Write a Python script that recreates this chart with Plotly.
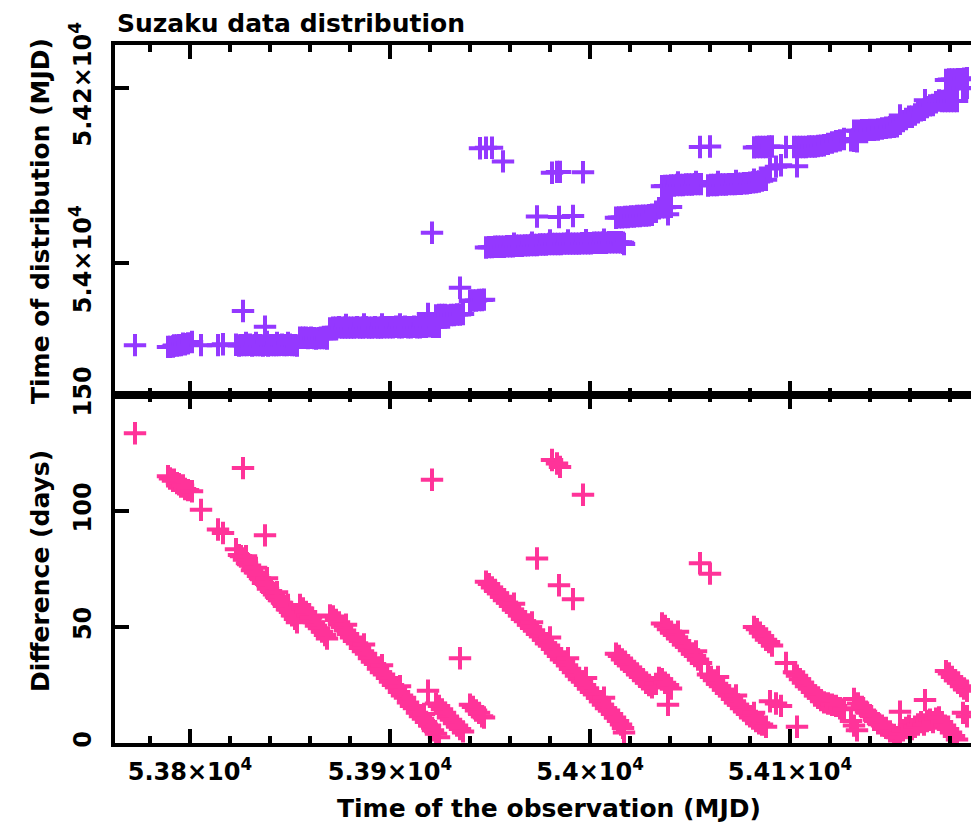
import plotly.graph_objects as go

# Observation time (MJD) and difference (days) = distribution time - observation time
obs_time = [
    # released ~MJD 53906
    53772.5, 53789, 53790, 53791.5, 53792, 53793.5, 53794.5, 53795.5, 53796.5, 53797.5,
    53799, 53801, 53805.5, 53814, 53816.5, 53823, 53824.5, 53825.5, 53827, 53828.5,
    53830, 53831, 53832.5, 53834, 53835, 53836.5, 53838, 53839, 53840.5, 53842,
    53843, 53844.5, 53846, 53847, 53848.5, 53850, 53851, 53852.5, 53853.5,
    53828, 53833, 53838.5, 53843.5, 53849,
    53826.5, 53837.5,
    # released ~MJD 53914
    53855, 53856.5, 53858, 53859, 53860.5, 53862, 53863, 53864.5, 53866, 53867.5, 53868.5,
    # released ~MJD 53926
    53870, 53871.5, 53873, 53874.5, 53876, 53877.5, 53879, 53880.5, 53882, 53883.5,
    53885, 53886.5, 53888, 53889.5, 53891, 53892.5, 53894, 53895.5, 53897, 53898.5,
    53900, 53901.5, 53903, 53904.5, 53906, 53907.5, 53909, 53910.5, 53912, 53913.5,
    53915, 53916.5, 53918, 53920, 53921.5, 53923, 53924.5,
    53878, 53887, 53896, 53905, 53917,
    53921, 53935, 53919,
    # released ~MJD 53940
    53923, 53924.5, 53926, 53927.5, 53929, 53930.5, 53932, 53933.5, 53935, 53936.5,
    # released ~MJD 53957
    53940, 53941.5, 53943, 53944.5, 53946, 53947,
    # released much later (off the lower scale)
    53945, 53948, 53951, 53956.5,
    # released ~MJD 54020
    53948, 53949.5, 53951, 53952.5, 53954, 53955.5, 53957, 53958.5, 53960, 53961.5,
    53963, 53964.5, 53966, 53967.5, 53969, 53970.5, 53972, 53973.5, 53975, 53976.5,
    53978, 53979.5, 53981, 53982.5, 53984, 53985.5, 53987, 53988.5, 53990, 53991.5,
    53993, 53994.5, 53996, 53997.5, 53999, 54000.5, 54002, 54003.5, 54005, 54006.5,
    54008, 54009.5, 54011, 54012.5, 54014, 54015.5, 54016.5, 54017,
    53962, 53971, 53980, 53989, 53998, 54007,
    53973.5, 53981, 53983.5, 53985, 53996.5, 53984.5, 53991.5,
    # released ~MJD 54053
    54013, 54014.5, 54016, 54017.5, 54019, 54020.5, 54022, 54023.5, 54025, 54026.5,
    54028, 54029.5, 54031, 54033, 54034.5, 54036, 54037.5, 54039, 54040.5, 54039,
    # released ~MJD 54089
    54036, 54037.5, 54039, 54040.5, 54042, 54043.5, 54045, 54046.5, 54048, 54049.5,
    54051, 54052.5, 54054, 54055.5, 54059, 54060.5, 54062, 54063.5, 54065, 54066.5,
    54068, 54069.5, 54071, 54072.5, 54074, 54075.5, 54077, 54078.5, 54080, 54081.5,
    54083, 54084.5, 54086, 54088,
    54044, 54053, 54064, 54073, 54082,
    54055, 54060,
    # released ~MJD 54131
    54082, 54083.5, 54085, 54086.5, 54088, 54089.5, 54091, 54098, 54102, 54103.5,
    54105, 54106.5, 54108, 54109.5, 54111, 54112.5, 54114, 54115.5, 54117, 54119,
    54121, 54123, 54125, 54127,
    # released ~MJD 54110
    54090, 54093, 54095.5, 54103.5,
    # released ~MJD 54140-54150
    54130.5, 54132, 54133.5,
    54132, 54134, 54136, 54138, 54140, 54142, 54144, 54146, 54148, 54150, 54152,
    # quick releases ~MJD 54155-54185
    54153.5, 54155, 54156.5, 54158, 54159.5, 54161, 54162.5, 54164, 54165.5, 54167,
    54168.5, 54170, 54171.5, 54173, 54174.5, 54176, 54177.5, 54179, 54180.5, 54182,
    54183.5,
    54155, 54167.5,
    # released ~MJD 54210
    54178, 54179.5, 54181, 54182.5, 54184, 54185.5, 54187, 54188.5,
    54186.5, 54188.5,
]

difference = [
    133.5, 115, 114, 113, 113.5, 112, 111.5, 110.5, 111, 109.5,
    109, 108.5, 100.5, 92, 90.5, 83.5, 81, 80.5, 79, 77.5,
    76.5, 74.5, 73.5, 72, 71, 69, 68.5, 66.5, 65.5, 64,
    63, 61.5, 60.5, 59, 57.5, 56.5, 55, 53.5, 52,
    80.5, 75.5, 71, 65, 59.5,
    118.5, 89.5,
    59.5, 58, 56.5, 55, 54, 52, 50.5, 49.5, 48, 46.5, 45,
    55, 54.5, 53, 52, 50, 48.5, 47, 45.5, 44, 43,
    41, 39.5, 38.5, 36.5, 35, 34, 32, 30.5, 29.5, 28,
    26.5, 25, 24, 22, 20.5, 19.5, 17.5, 16, 15, 13,
    11.5, 10.5, 9, 7.5, 5.5, 4, 2.5,
    51, 42.5, 33.5, 24.5, 12.5,
    113.5, 36.5, 22.5,
    17, 16, 14.5, 13, 11, 10, 8.5, 7.5, 6, 5,
    16.5, 15.5, 14, 13, 11.5, 11,
    186, 183.5, 180.5, 159.5,
    69.5, 68.5, 67, 66, 64.5, 63, 61.5, 60.5, 59, 57.5,
    56.5, 55, 53.5, 52.5, 51, 50, 48.5, 47, 46, 44.5,
    43, 42, 40.5, 39, 37.5, 36, 35, 33.5, 32, 30.5,
    29, 27.5, 26.5, 25, 23.5, 22, 21, 19.5, 18, 16.5,
    15, 14, 12.5, 11, 9.5, 8, 6.5, 4.5,
    60, 52, 45.5, 36.5, 28, 19.5,
    79.5, 122, 120.5, 119, 107, 68, 62,
    38.5, 37.5, 36, 35, 33.5, 32.5, 31, 30, 28.5, 27.5,
    26, 25, 24, 25.5, 28, 27.5, 26, 25, 23.5, 16.5,
    51.5, 50.5, 49, 48, 46.5, 45.5, 44, 42.5, 41.5, 40,
    38.5, 37.5, 36, 34.5, 29.5, 28.5, 27, 25.5, 24.5, 23,
    21.5, 20.5, 19, 17.5, 16.5, 15, 14, 12.5, 11.5, 10.5,
    9.5, 8.5, 8, 7,
    48, 39.5, 28.5, 20.5, 13,
    77.5, 73,
    50, 49, 47.5, 46, 44.5, 43.5, 42, 34.5, 30.5, 29,
    27.5, 26, 24.5, 23.5, 22, 20.5, 19.5, 18.5, 17.5, 17,
    16.5, 16, 15, 14.5,
    18, 17, 16, 7,
    9.5, 7.5, 5.5,
    19, 17, 15.5, 13.5, 12, 10, 8.5, 7.5, 6.5, 5, 3.5,
    2.5, 4, 5.5, 6.5, 7.5, 6, 7, 8, 9, 8,
    9.5, 10, 9, 10.5, 11, 9, 7.5, 6, 4.5, 3,
    1.5,
    13.5, 18.5,
    31, 30, 28.5, 27, 26, 24.5, 23.5, 22.5,
    13, 11.5,
]

# time of distribution = observation time + difference
dist_time = [o + d for o, d in zip(obs_time, difference)]

x_tick_vals = [53800, 53900, 54000, 54100]
x_tick_text = ["5.38×10<sup>4</sup>", "5.39×10<sup>4</sup>", "5.4×10<sup>4</sup>", "5.41×10<sup>4</sup>"]
top_tick_vals = [54000, 54200]
top_tick_text = ["5.4×10<sup>4</sup>", "5.42×10<sup>4</sup>"]
bottom_tick_vals = [0, 50, 100, 150]
bottom_tick_text = ["0", "50", "100", "150"]

PURPLE = "#9438FF"
PINK = "#FF3399"
FONT = "DejaVu Sans"
TXT = dict(family=FONT, size=24, color="black", weight="bold")
TITLE_TXT = dict(family=FONT, size=25, color="black", weight="bold")

fig = go.Figure()
fig.add_trace(go.Scatter(
    x=obs_time, y=dist_time, mode="markers", xaxis="x2", yaxis="y2",
    marker=dict(symbol="cross-thin", size=16, color=PURPLE, line=dict(width=4, color=PURPLE)),
    showlegend=False, hoverinfo="skip"))
fig.add_trace(go.Scatter(
    x=obs_time, y=difference, mode="markers", xaxis="x", yaxis="y",
    marker=dict(symbol="cross-thin", size=16, color=PINK, line=dict(width=4, color=PINK)),
    showlegend=False, hoverinfo="skip"))

split = 348 / 698
xcommon = dict(
    range=[53762.5, 54190.5], showline=True, linewidth=4, linecolor="black",
    mirror="allticks", ticks="inside", ticklen=14, tickwidth=3.5, tickcolor="black",
    tickvals=x_tick_vals, ticktext=x_tick_text, showgrid=False, zeroline=False,
    minor=dict(ticks="inside", ticklen=7, tickwidth=3.5, tickcolor="black",
               tickmode="linear", tick0=53800, dtick=20, showgrid=False),
    tickfont=TXT,
)
ycommon = dict(
    showline=True, linewidth=4, linecolor="black", mirror=False,
    ticks="inside", ticklen=14, tickwidth=3.5, tickcolor="black",
    tickangle=-90, showgrid=False, zeroline=False, tickfont=TXT,
)

fig.update_layout(
    width=971, height=825,
    margin=dict(l=115, r=0, t=45, b=82, autoexpand=False),
    paper_bgcolor="white", plot_bgcolor="white",
    xaxis=dict(domain=[0, 1], anchor="y", ticklabelstandoff=4, **xcommon),
    yaxis=dict(domain=[0, split], anchor="x", range=[0, 150],
               tickvals=bottom_tick_vals, ticktext=bottom_tick_text,
               ticklabelstandoff=10, **ycommon),
    xaxis2=dict(domain=[0, 1], anchor="y2", matches="x", showticklabels=False, **xcommon),
    yaxis2=dict(domain=[split, 1], anchor="x2", range=[53849, 54249],
                tickvals=top_tick_vals, ticktext=top_tick_text,
                ticklabelstandoff=10, **ycommon),
    annotations=[
        dict(text="Suzaku data distribution", xref="paper", yref="paper",
             x=0, y=(743 - 23) / 698, xanchor="left", yanchor="middle",
             showarrow=False, font=TITLE_TXT),
        dict(text="Time of distribution (MJD)", xref="paper", yref="paper",
             x=(40 - 115) / 856, y=(743 - 221) / 698, textangle=-90,
             xanchor="center", yanchor="middle", showarrow=False, font=TITLE_TXT),
        dict(text="Difference (days)", xref="paper", yref="paper",
             x=(40 - 115) / 856, y=(743 - 571) / 698, textangle=-90,
             xanchor="center", yanchor="middle", showarrow=False, font=TITLE_TXT),
        dict(text="Time of the observation (MJD)", xref="paper", yref="paper",
             x=(549 - 115) / 856, y=(743 - 808) / 698,
             xanchor="center", yanchor="middle", showarrow=False, font=TITLE_TXT),
    ],
)

# remove the page's default 8px body margin so the 971x825 figure fills the window exactly
fig.write_html(
    "out.html",
    config={"displayModeBar": False, "staticPlot": True},
    post_script="document.body.style.margin='0';document.body.style.overflow='hidden';",
)
